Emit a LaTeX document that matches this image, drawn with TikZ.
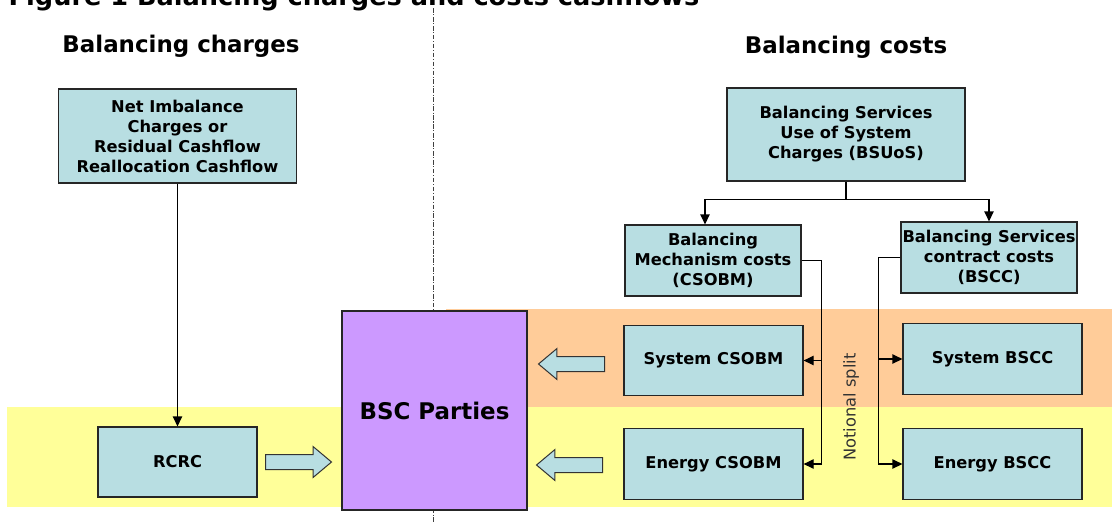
\documentclass[tikz,border=0pt]{standalone}
\usepackage{fontspec}
\setmainfont{DejaVu Sans}
\usetikzlibrary{arrows.meta,positioning,calc,shapes.arrows}

\definecolor{boxfill}{RGB}{184,222,226}
\definecolor{bandorange}{RGB}{255,204,153}
\definecolor{bandyellow}{RGB}{255,255,153}
\definecolor{partyfill}{RGB}{204,153,255}

\tikzset{
  costbox/.style={draw=black!85, line width=0.9pt, fill=boxfill, align=center,
    inner sep=1pt, font=\bfseries\fontsize{12.2}{15}\selectfont},
  heading/.style={anchor=base, font=\bfseries\fontsize{17.2}{20}\selectfont},
  flow/.style={line width=0.9pt, -{Triangle[length=7.5pt,width=7pt]}},
  fatarrow/.style={single arrow, draw=black!80, line width=0.75pt, fill=boxfill,
    minimum height=49.5pt, minimum width=23pt, single arrow head extend=6pt,
    single arrow tip angle=80, inner xsep=0pt, inner ysep=5.25pt, anchor=tail},
}

\begin{document}
\begin{tikzpicture}[x=0.75pt, y=-0.75pt]
\useasboundingbox (0,0) rectangle (1112,522);

% coloured bands
\fill[bandorange] (446,309) rectangle (1112,407);
\fill[bandyellow] (7,407) rectangle (1112,507);

% divider between charges and costs
\draw[black!75, line width=0.6pt, dash pattern=on 3.5pt off 1.2pt on 0.8pt off 1.2pt] (433,8) -- (433,522);

% title and headings
\node[anchor=base west, font=\bfseries\fontsize{19.2}{23}\selectfont] (title) at (4,5) {Figure 1 Balancing charges and costs cashflows};
\node[heading] (hcharges) at (181,52) {Balancing charges};
\node[heading] (hcosts) at (846,53) {Balancing costs};

% charges side
\node[costbox, minimum width=178.5pt, minimum height=70.5pt] (nic) at (177.5,136)
  {Net Imbalance\\Charges or\\Residual Cashflow\\Reallocation Cashflow};
\node[costbox, minimum width=119.25pt, minimum height=52.5pt] (rcrc) at (177.5,462) {RCRC};
\node[costbox, fill=partyfill, minimum width=138.75pt, minimum height=149.25pt,
  font=\bfseries\fontsize{17.2}{20}\selectfont] (bsc) at (434.5,410.5) {BSC Parties};

% costs side
\node[costbox, minimum width=178.5pt, minimum height=69.75pt] (bsuos) at (846,134.5)
  {Balancing Services\\Use of System\\Charges (BSUoS)};
\node[costbox, minimum width=132pt, minimum height=53.25pt] (csobm) at (713,260.5)
  {Balancing\\Mechanism costs\\(CSOBM)};
\node[costbox, minimum width=132pt, minimum height=53.25pt] (bscc) at (989,257.5)
  {Balancing Services\\contract costs\\(BSCC)};
\node[costbox, minimum width=134.25pt, minimum height=53pt] (scsobm) at (713.5,360.5) {System CSOBM};
\node[costbox, minimum width=134.25pt, minimum height=53pt] (ecsobm) at (713.5,464) {Energy CSOBM};
\node[costbox, minimum width=134.25pt, minimum height=53pt] (sbscc) at (992.5,359) {System BSCC};
\node[costbox, minimum width=134.25pt, minimum height=53pt] (ebscc) at (992.5,464) {Energy BSCC};

% fat arrows into the parties
\node[fatarrow] (torcrc) at (265,462) {};
\node[fatarrow, shape border rotate=180] (fromsys) at (605,364) {};
\node[fatarrow, shape border rotate=180] (fromenergy) at (603,465) {};

% connectors
\draw[flow] (nic) -- (rcrc);
\draw[line width=0.9pt] (bsuos.south) -- ++(0,18) coordinate (split);
\draw[flow] (split) -| ([xshift=-6pt]csobm.north);
\draw[flow] (split) -| (bscc.north);

\coordinate (ctrunk) at ($(csobm.east)+(20,0)$);
\draw[flow] (csobm.east) -- (ctrunk) |- (ecsobm.east);
\draw[flow] (ctrunk |- scsobm.east) -- (scsobm.east);

\coordinate (btrunk) at ($(bscc.west)+(-22,0)$);
\draw[flow] (bscc.west) -- (btrunk) |- (ebscc.west);
\draw[flow] (btrunk |- sbscc.west) -- (sbscc.west);

\node[rotate=90, text=black!80, font=\fontsize{12.2}{14}\selectfont] (notional) at (851,407) {Notional split};
\end{tikzpicture}
\end{document}
